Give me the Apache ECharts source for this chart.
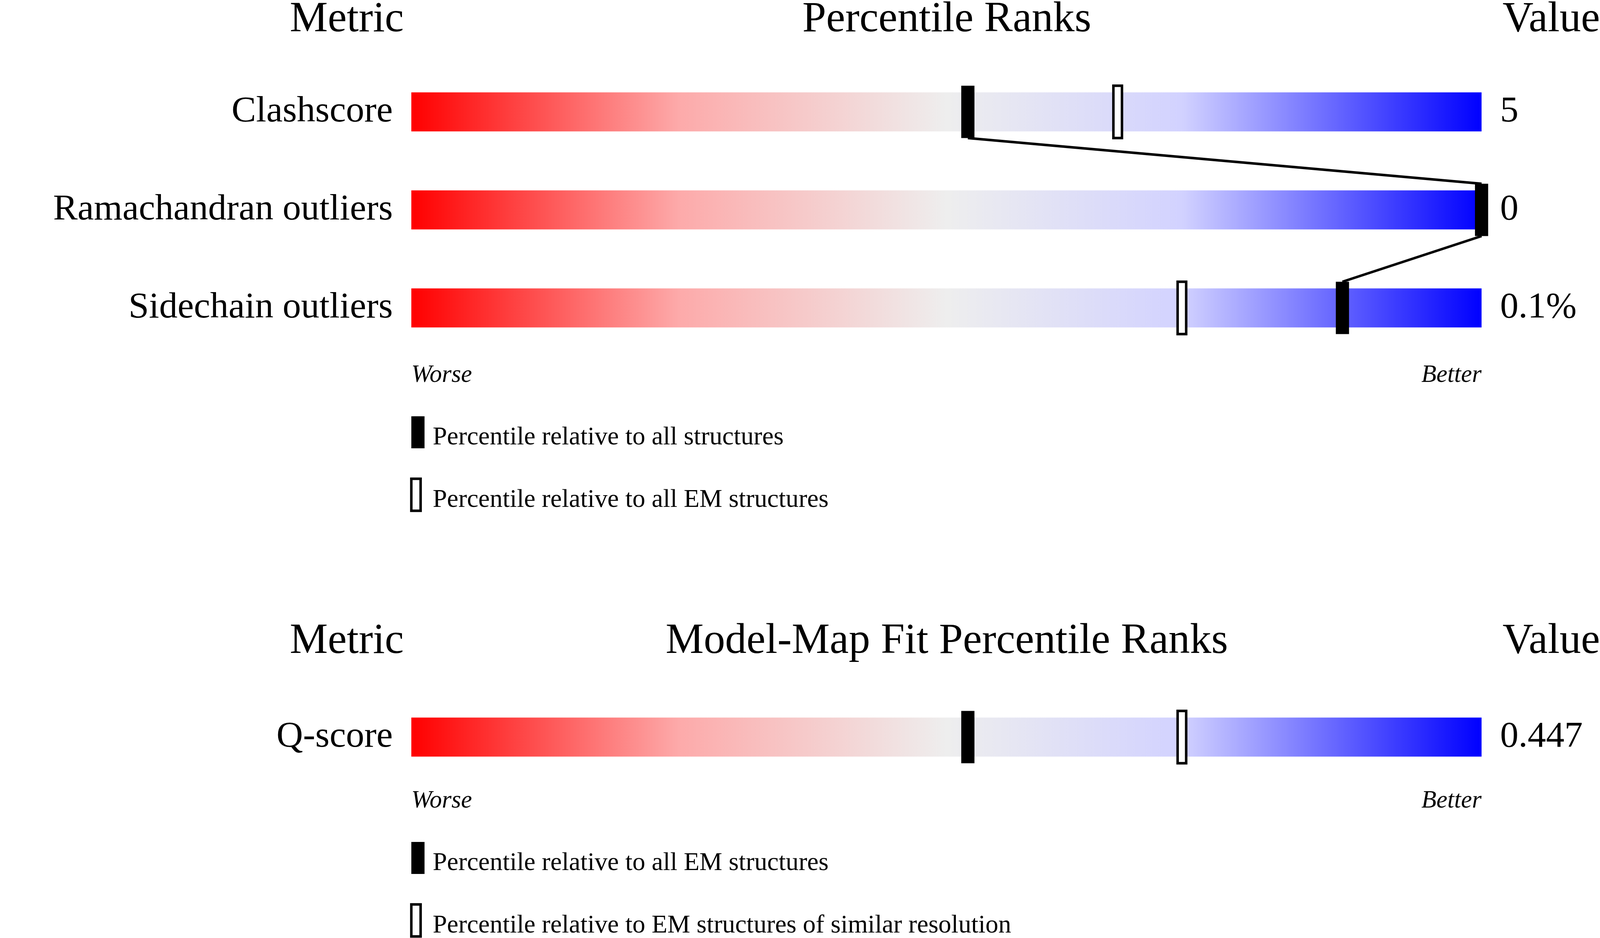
<!DOCTYPE html>
<html><head><meta charset="utf-8">
<script src="https://cdn.jsdelivr.net/npm/echarts@6/dist/echarts.min.js"></script>
<style>html,body{margin:0;padding:0;background:#fff;overflow:hidden;width:100%;height:100%}#c{width:100vw;height:100vh}</style>
</head><body><div id="c"></div>
<script>
// Validation metrics (top panel)
const metrics = ['Clashscore', 'Ramachandran outliers', 'Sidechain outliers'];
const metricValues = ['5', '0', '0.1%'];
const pctAll = [52, 100, 87];
const pctEM = [66, null, 72];
// Model-map fit (bottom panel)
const fitMetrics = ['Q-score'];
const fitValues = ['0.447'];
const fitPctEM = [52];
const fitPctSimilar = [72];

const W = window.innerWidth, H = window.innerHeight;
const kx = W / 4485, ky = H / 2402, k = Math.min(kx, ky);
const X = v => v * kx, Y = v => v * ky, S = v => v * k;

const FONT = 'Liberation Serif';
const BAR_H = Y(100), MK_H = Y(134);
const gradient = {
  type: 'linear', x: 0, y: 0, x2: 1, y2: 0,
  colorStops: [
    { offset: 0, color: '#ff0000' },
    { offset: 0.25, color: '#fdaaaa' },
    { offset: 0.5, color: '#eeeeee' },
    { offset: 0.72, color: '#d2d2ff' },
    { offset: 1, color: '#0000ff' }
  ]
};

function barItem(params, api) {
  const a = api.coord([0, api.value(1)]);
  const b = api.coord([100, api.value(1)]);
  return { type: 'rect', shape: { x: a[0], y: a[1] - BAR_H / 2, width: b[0] - a[0], height: BAR_H }, style: { fill: gradient } };
}
function markerItem(filled) {
  return (params, api) => {
    const v = api.value(0);
    if (v == null || isNaN(v)) return null;
    const p = api.coord([v, api.value(1)]);
    const w = X(filled ? 37 : 24);
    return {
      type: 'rect', z2: 10,
      shape: { x: p[0] - w / 2, y: p[1] - MK_H / 2, width: w, height: MK_H },
      style: filled ? { fill: '#000' } : { fill: '#fff', stroke: '#000', lineWidth: S(7) }
    };
  };
}
function connectorItem(params, api) {
  const p1 = api.coord([api.value(0), api.value(1)]);
  const p2 = api.coord([api.value(2), api.value(3)]);
  return { type: 'line', z2: 5, shape: { x1: p1[0], y1: p1[1] + MK_H / 2, x2: p2[0], y2: p2[1] - MK_H / 2 }, style: { stroke: '#000', lineWidth: S(7) } };
}

const links = [];
for (let i = 0; i < pctAll.length - 1; i++) links.push([pctAll[i], i, pctAll[i + 1], i + 1]);

function yAxes(gridIndex, names, vals) {
  return [
    { gridIndex, type: 'category', data: names, inverse: true, axisLine: { show: false }, axisTick: { show: false },
      axisLabel: { fontFamily: FONT, fontSize: S(103), color: '#000', margin: X(52) } },
    { gridIndex, type: 'category', data: vals, inverse: true, position: 'right', axisLine: { show: false }, axisTick: { show: false },
      axisLabel: { fontFamily: FONT, fontSize: S(103), color: '#000', margin: X(52) } }
  ];
}
const xAx = g => ({ gridIndex: g, type: 'value', min: 0, max: 100, show: false });

function panelSeries(xi, yi, n, filledArr, openArr) {
  return [
    { type: 'custom', xAxisIndex: xi, yAxisIndex: yi, clip: false, renderItem: barItem, data: Array.from({ length: n }, (_, i) => [0, i]) },
    { type: 'custom', xAxisIndex: xi, yAxisIndex: yi, clip: false, renderItem: markerItem(false), data: openArr.map((v, i) => [v == null ? NaN : v, i]) },
    { type: 'custom', xAxisIndex: xi, yAxisIndex: yi, clip: false, renderItem: markerItem(true), data: filledArr.map((v, i) => [v, i]) }
  ];
}

const txt = (x, y, text, size, align, italic) => ({
  type: 'text', x: X(x), y: Y(y), style: { text, fontFamily: FONT, fontSize: S(size), fill: '#000', align, verticalAlign: 'middle', fontStyle: italic ? 'italic' : 'normal' }
});
const legendMark = (x, y, filled) => ({
  type: 'rect', shape: { x: X(x), y: Y(y - 40), width: X(filled ? 37 : 26), height: Y(82) },
  style: filled ? { fill: '#000' } : { fill: '#fff', stroke: '#000', lineWidth: S(7) }
});

const chart = echarts.init(document.getElementById('c'), null, { width: W, height: H });
chart.setOption({
  backgroundColor: '#fff',
  animation: false,
  grid: [
    { left: X(1153), width: X(3000), top: Y(161), height: Y(753) },
    { left: X(1153), width: X(3000), top: Y(1762), height: Y(251) }
  ],
  xAxis: [xAx(0), xAx(1)],
  yAxis: [...yAxes(0, metrics, metricValues), ...yAxes(1, fitMetrics, fitValues)],
  series: [
    ...panelSeries(0, 0, metrics.length, pctAll, pctEM),
    { type: 'custom', xAxisIndex: 0, yAxisIndex: 0, clip: false, renderItem: connectorItem, data: links },
    ...panelSeries(1, 2, fitMetrics.length, fitPctEM, fitPctSimilar)
  ],
  graphic: [
    txt(972, 51, 'Metric', 120, 'center'),
    txt(2654, 51, 'Percentile Ranks', 120, 'center'),
    txt(4485, 51, 'Value', 120, 'right'),
    txt(1153, 961, 'Worse', 69, 'left', true),
    txt(4153, 961, 'Better', 69, 'right', true),
    legendMark(1153, 1106, true), txt(1213, 1121, 'Percentile relative to all structures', 72, 'left'),
    legendMark(1153, 1266, false), txt(1213, 1281, 'Percentile relative to all EM structures', 72, 'left'),
    txt(972, 1643, 'Metric', 120, 'center'),
    txt(2654, 1643, 'Model-Map Fit Percentile Ranks', 120, 'center'),
    txt(4485, 1643, 'Value', 120, 'right'),
    txt(1153, 2051, 'Worse', 69, 'left', true),
    txt(4153, 2051, 'Better', 69, 'right', true),
    legendMark(1153, 2196, true), txt(1213, 2211, 'Percentile relative to all EM structures', 72, 'left'),
    legendMark(1153, 2356, false), txt(1213, 2371, 'Percentile relative to EM structures of similar resolution', 72, 'left')
  ]
});
</script></body></html>
